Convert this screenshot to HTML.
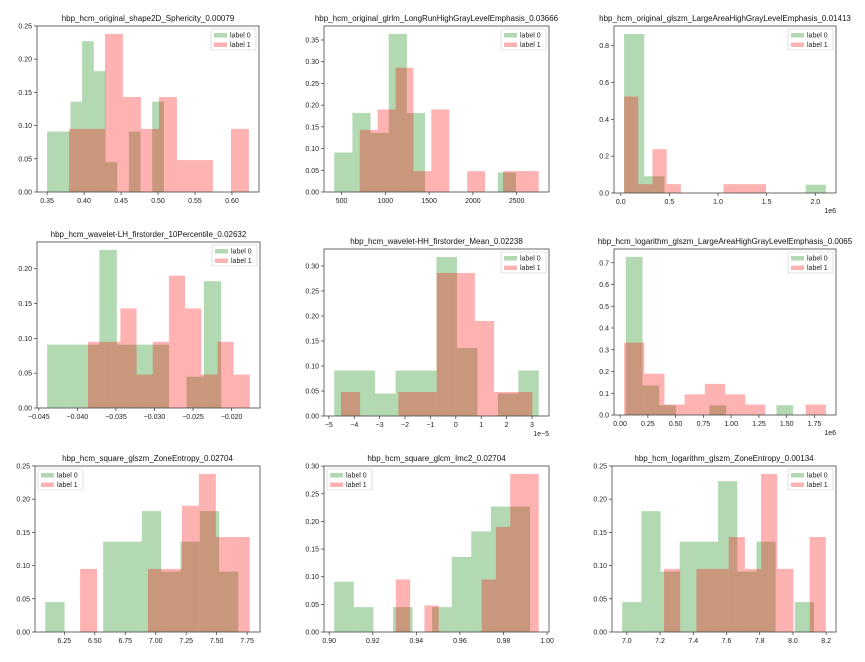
<!DOCTYPE html>
<html><head><meta charset="utf-8"><style>
html,body{margin:0;padding:0;background:#fff;}
svg{display:block;font-family:"Liberation Sans","DejaVu Sans",sans-serif;}
</style></head><body>
<svg id="fig" width="865" height="662" viewBox="0 0 865 662" xmlns="http://www.w3.org/2000/svg"></svg>
<script>
// ---- data per subplot ----
const titles = [
 "hbp_hcm_original_shape2D_Sphericity_0.00079",
 "hbp_hcm_original_glrlm_LongRunHighGrayLevelEmphasis_0.03666",
 "hbp_hcm_original_glszm_LargeAreaHighGrayLevelEmphasis_0.01413",
 "hbp_hcm_wavelet-LH_firstorder_10Percentile_0.02632",
 "hbp_hcm_wavelet-HH_firstorder_Mean_0.02238",
 "hbp_hcm_logarithm_glszm_LargeAreaHighGrayLevelEmphasis_0.0065",
 "hbp_hcm_square_glszm_ZoneEntropy_0.02704",
 "hbp_hcm_square_glcm_Imc2_0.02704",
 "hbp_hcm_logarithm_glszm_ZoneEntropy_0.00134"
];
// data range [min,max] of each label's values
const greenRange = [[0.350,0.508],[415.5,2492],[0.034,2.109],[-0.04392,-0.02134],[-4.788,3.267],[0.051,1.558],[6.093,7.679],[0.9023,0.9922],[6.972,8.127]];
const redRange   = [[0.3796,0.6229],[707,2753],[0.034,1.494],[-0.03862,-0.01763],[-4.524,3.016],[0.036,1.853],[6.379,7.772],[0.9306,0.9962],[7.224,8.198]];
// bin heights (10 bins)
const greenHeights = [
 [0.091,0.091,0.136,0.227,0.182,0.045,0,0.091,0,0.136],
 [0.091,0.182,0.136,0.364,0.182,0,0,0,0,0.045],
 [0.864,0.091,0,0,0,0,0,0,0,0.045],
 [0.091,0.091,0.091,0.227,0.091,0.091,0.091,0,0.045,0.182],
 [0.091,0.091,0.045,0.091,0.091,0.318,0.136,0,0.045,0.091],
 [0.727,0.136,0.045,0,0,0.045,0,0,0,0.045],
 [0.045,0,0,0.136,0.136,0.182,0.091,0.136,0.182,0.091],
 [0.091,0.045,0,0.045,0,0.045,0.136,0.182,0.227,0.227],
 [0.045,0.182,0.091,0.136,0.136,0.227,0.091,0.136,0,0.045]
];
const redHeights = [
 [0.095,0.095,0.238,0.143,0.095,0.143,0.048,0.048,0,0.095],
 [0.143,0.190,0.286,0.048,0.190,0,0.048,0,0.048,0.048],
 [0.524,0.048,0.238,0.048,0,0,0,0.048,0.048,0.048],
 [0.095,0.095,0.143,0.048,0.095,0.190,0.143,0.048,0.095,0.048],
 [0.048,0,0,0.048,0.048,0.286,0.286,0.190,0.048,0.048],
 [0.333,0.190,0.048,0.095,0.143,0.095,0.048,0,0,0.048],
 [0.095,0,0,0,0.095,0.095,0.190,0.238,0.143,0.143],
 [0.095,0,0.048,0,0,0,0.095,0.190,0.286,0.286],
 [0.095,0,0.095,0.095,0.143,0.095,0.238,0.095,0,0.143]
];
const xTicks = [
 [0.35,0.40,0.45,0.50,0.55,0.60],
 [500,1000,1500,2000,2500],
 [0,0.5,1.0,1.5,2.0],
 [-0.045,-0.040,-0.035,-0.030,-0.025,-0.020],
 [-5,-4,-3,-2,-1,0,1,2,3],
 [0,0.25,0.5,0.75,1.0,1.25,1.5,1.75],
 [6.25,6.5,6.75,7.0,7.25,7.5,7.75],
 [0.90,0.92,0.94,0.96,0.98,1.00],
 [7.0,7.2,7.4,7.6,7.8,8.0,8.2]
];
const xTickLabels = [
 ["0.35","0.40","0.45","0.50","0.55","0.60"],
 ["500","1000","1500","2000","2500"],
 ["0.0","0.5","1.0","1.5","2.0"],
 ["\u22120.045","\u22120.040","\u22120.035","\u22120.030","\u22120.025","\u22120.020"],
 ["\u22125","\u22124","\u22123","\u22122","\u22121","0","1","2","3"],
 ["0.00","0.25","0.50","0.75","1.00","1.25","1.50","1.75"],
 ["6.25","6.50","6.75","7.00","7.25","7.50","7.75"],
 ["0.90","0.92","0.94","0.96","0.98","1.00"],
 ["7.0","7.2","7.4","7.6","7.8","8.0","8.2"]
];
const yTicks = [
 [0,0.05,0.10,0.15,0.20,0.25],
 [0,0.05,0.10,0.15,0.20,0.25,0.30,0.35],
 [0,0.2,0.4,0.6,0.8],
 [0,0.05,0.10,0.15,0.20],
 [0,0.05,0.10,0.15,0.20,0.25,0.30],
 [0,0.1,0.2,0.3,0.4,0.5,0.6,0.7],
 [0,0.05,0.10,0.15,0.20,0.25],
 [0,0.05,0.10,0.15,0.20,0.25,0.30],
 [0,0.05,0.10,0.15,0.20,0.25]
];
const yDecimals = [2,2,1,2,2,1,2,2,2];
const offsetText = ["","","1e6","","1e\u22125","1e6","","",""];
const legendLeft = [false,false,false,false,false,false,true,true,false];
// layout (axes boxes)
const boxes = [[37,26,259,192],[324,26,549,192],[614,26,836,193],[37,242,260,408],[324,249,549,416],[614,249,836,415],[35,466,260,632],[324,466,549,632],[612,466,836,632]];

const NS="http://www.w3.org/2000/svg";
const svg=document.getElementById('fig');
function mk(tag,attrs,parent){const e=document.createElementNS(NS,tag);for(const k in attrs)e.setAttribute(k,attrs[k]);(parent||svg).appendChild(e);return e;}

for(let p=0;p<9;p++){
  const [L,T,R,B]=boxes[p];
  const g=mk('g',{});
  
  
  const lo=Math.min(greenRange[p][0],redRange[p][0]), hi=Math.max(greenRange[p][1],redRange[p][1]);
  const m=(hi-lo)*0.05, x0=lo-m, x1=hi+m;
  const ymax=Math.max(...greenHeights[p],...redHeights[p])*1.05;
  const sx=v=>L+(v-x0)/(x1-x0)*(R-L);
  const sy=v=>B-v/ymax*(B-T);
  const series=[[greenRange[p],greenHeights[p],'#008000','green'],[redRange[p],redHeights[p],'#ff0000','red']];
  series.forEach(([rg,hs,col,nm],si)=>{
    const w=(rg[1]-rg[0])/hs.length;
    hs.forEach((h,i)=>{
      if(h<=0)return;
      const xa=sx(rg[0]+i*w), xb=sx(rg[0]+(i+1)*w);
      const r=mk('rect',{x:xa,y:sy(h),width:xb-xa,height:B-sy(h),fill:col,'fill-opacity':0.3},g);
      
      
    });
  });
  // frame
  const fr=mk('rect',{x:L,y:T,width:R-L,height:B-T,fill:'none',stroke:'#444','stroke-width':0.8},g);
  
  
  // x ticks
  xTicks[p].forEach((v,i)=>{
    const x=sx(v);
    mk('line',{x1:x,y1:B,x2:x,y2:B+3,stroke:'#333','stroke-width':0.7},g);
    const t=mk('text',{x:x,y:B+11,'font-size':7,'text-anchor':'middle',fill:'#222'},g);
    t.textContent=xTickLabels[p][i];
    
    
  });
  yTicks[p].forEach(v=>{
    const y=sy(v);
    mk('line',{x1:L-3,y1:y,x2:L,y2:y,stroke:'#333','stroke-width':0.7},g);
    const t=mk('text',{x:L-5,y:y+2.5,'font-size':7,'text-anchor':'end',fill:'#222'},g);
    t.textContent=v.toFixed(yDecimals[p]);
    
    
  });
  if(offsetText[p]){
    const t=mk('text',{x:R,y:B+20,'font-size':7,'text-anchor':'end',fill:'#222'},g);
    t.textContent=offsetText[p];
    
    
  }
  const tt=mk('text',{x:(L+R)/2,y:T-5,'font-size':8,'text-anchor':'middle',fill:'#111'},g);
  tt.textContent=titles[p];
  
  
  // legend
  const lw=45, lx=legendLeft[p]?L+3:R-lw-3, ly=T+3;
  const lg=mk('g',{},g);
  
  
  mk('rect',{x:lx,y:ly,width:lw,height:21,fill:'#fff','fill-opacity':0.8,stroke:'#ccc','stroke-width':0.6,rx:1.5},lg);
  [['#008000','label 0'],['#ff0000','label 1']].forEach(([c,lab],i)=>{
    mk('rect',{x:lx+3,y:ly+4+i*9.5,width:13,height:4.5,fill:c,'fill-opacity':0.3},lg);
    const t=mk('text',{x:lx+19,y:ly+8.5+i*9.5,'font-size':7,fill:'#222'},lg);
    t.textContent=lab;
    
    
  });
}
</script>
</body></html>
